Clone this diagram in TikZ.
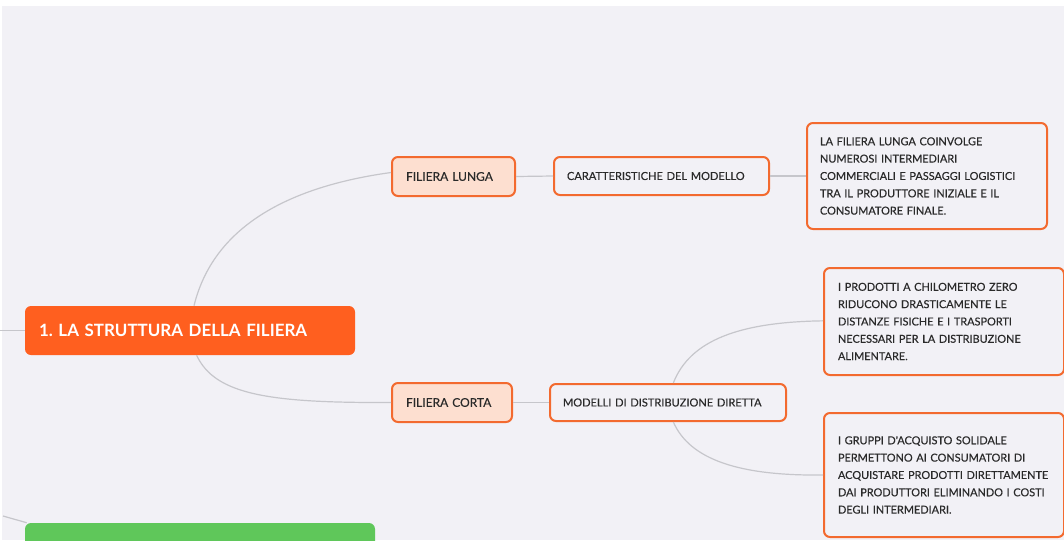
\documentclass[tikz,border=0pt]{standalone}
\usepackage{fontspec}
\setmainfont{Lato}
\newfontfamily\boxfont[FakeBold=0.35]{Lato}
\definecolor{canvas}{HTML}{F2F1F6}
\definecolor{rootorange}{HTML}{FF5F1F}
\definecolor{edgeorange}{HTML}{F36A2F}
\definecolor{peach}{HTML}{FDDFD0}
\definecolor{linkgray}{HTML}{C6C6CB}
\definecolor{leafgreen}{HTML}{5FC75A}
\definecolor{ink}{HTML}{2A2A2A}
\begin{document}
\frenchspacing
\begin{tikzpicture}[x=0.75pt,y=-0.75pt,
  link/.style={draw=linkgray,line width=0.9pt},
  boxbase/.style={rectangle,rounded corners=4.5pt,inner ysep=0pt,align=left,text=ink},
  rootbox/.style={boxbase,fill=rootorange,text=white,font=\fontsize{12.7}{16}\selectfont\bfseries},
  greenbox/.style={boxbase,fill=leafgreen},
  branchbox/.style={boxbase,draw=edgeorange,line width=1.5pt,fill=peach,font=\boxfont\fontsize{9}{11}\selectfont},
  subbox/.style={boxbase,draw=edgeorange,line width=1.5pt,fill=canvas,font=\boxfont\fontsize{8.3}{10}\selectfont},
  notebox/.style={boxbase,draw=edgeorange,line width=1.5pt,fill=canvas,font=\boxfont\fontsize{8.2}{13}\selectfont}]
  % page and background
  \useasboundingbox (0,0) rectangle (1064,540);
  \clip (0,0) rectangle (1064,540);
  \fill[white] (0,0) rectangle (1064,540);
  \fill[canvas] (2,6) rectangle (1064,540);

  % nodes
  \node[rootbox,minimum width=330*0.75pt,minimum height=49*0.75pt,inner xsep=14*0.75pt,text width=302*0.75pt] (root) at (190,330.5) {1. LA STRUTTURA DELLA FILIERA};
  \node[greenbox,minimum width=350*0.75pt,minimum height=50*0.75pt,inner xsep=14*0.75pt,text width=322*0.75pt] (next) at (200,548) {};

  \node[branchbox,minimum width=123*0.75pt,minimum height=39*0.75pt,inner xsep=14*0.75pt,text width=95*0.75pt] (lunga) at (453.5,176.5) {FILIERA LUNGA};
  \node[branchbox,minimum width=120*0.75pt,minimum height=39*0.75pt,inner xsep=14*0.75pt,text width=92*0.75pt] (corta) at (452,402.5) {FILIERA CORTA};

  \node[subbox,minimum width=215*0.75pt,minimum height=38*0.75pt,inner xsep=13*0.75pt,text width=189*0.75pt] (caratt) at (661.5,176) {CARATTERISTICHE DEL MODELLO};
  \node[subbox,minimum width=236*0.75pt,minimum height=37*0.75pt,inner xsep=13*0.75pt,text width=210*0.75pt] (modelli) at (668,402.5) {MODELLI DI DISTRIBUZIONE DIRETTA};

  \node[notebox,minimum width=240*0.75pt,minimum height=106*0.75pt,inner xsep=13*0.75pt,text width=214*0.75pt] (note1) at (927,176) {LA FILIERA LUNGA COINVOLGE\\NUMEROSI INTERMEDIARI\\COMMERCIALI E PASSAGGI LOGISTICI\\TRA IL PRODUTTORE INIZIALE E IL\\CONSUMATORE FINALE.};
  \node[notebox,minimum width=240*0.75pt,minimum height=107*0.75pt,inner xsep=14*0.75pt,text width=212*0.75pt] (note2) at (944,321.5) {I PRODOTTI A CHILOMETRO ZERO\\RIDUCONO DRASTICAMENTE LE\\DISTANZE FISICHE E I TRASPORTI\\NECESSARI PER LA DISTRIBUZIONE\\ALIMENTARE.};
  \node[notebox,minimum width=240*0.75pt,minimum height=124*0.75pt,inner xsep=14*0.75pt,text width=212*0.75pt] (note3) at (944,475) {I GRUPPI D'ACQUISTO SOLIDALE\\PERMETTONO AI CONSUMATORI DI\\ACQUISTARE PRODOTTI DIRETTAMENTE\\DAI PRODUTTORI ELIMINANDO I COSTI\\DEGLI INTERMEDIARI.};

  % free ends of the links leaving the canvas
  \coordinate (inroot) at (0,330.5);
  \coordinate (innext) at (3,516);

  % links
  \draw[link] (inroot) -- (root.west);
  \draw[link] (innext) -- ([xshift=2*0.75pt]next.north west);
  \draw[link] ([xshift=3]root.north) .. controls (215,220) and (300,185) .. ([yshift=3]lunga.west);
  \draw[link] ([xshift=5]root.south) .. controls (215,395) and (270,403) .. (corta.west);
  \draw[link] (lunga.east) -- (caratt.west);
  \draw[link] (caratt.east) -- (note1.west);
  \draw[link] (corta.east) -- (modelli.west);
  \draw[link] ([xshift=4]modelli.north) .. controls (690,340) and (740,322) .. ([yshift=0.5]note2.west);
  \draw[link] ([xshift=4]modelli.south) .. controls (690,460) and (740,476) .. (note3.west);
\end{tikzpicture}
\end{document}
